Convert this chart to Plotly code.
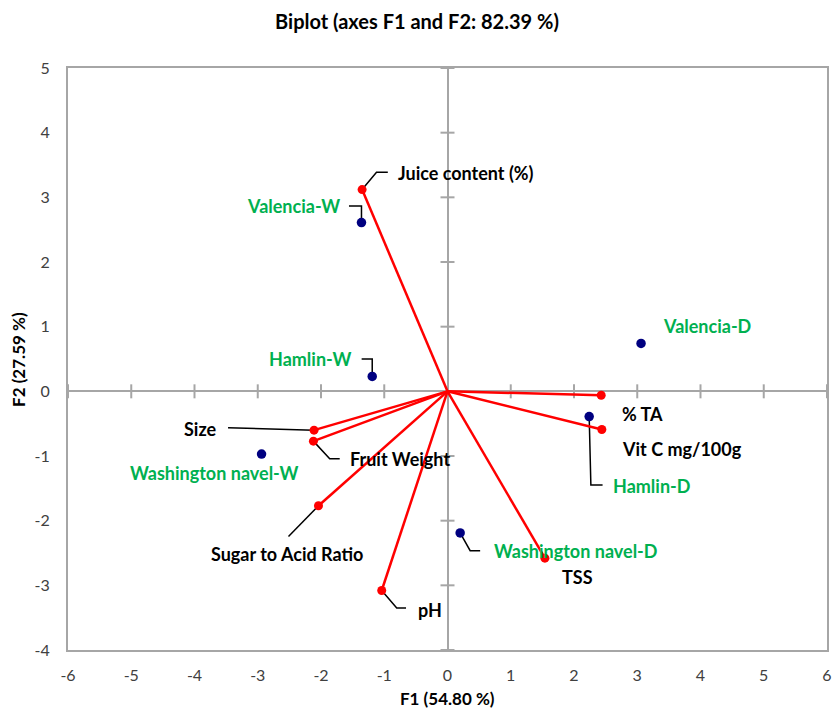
import plotly.graph_objects as go

# ---- data ----
obs_names = ["Valencia-W", "Hamlin-W", "Valencia-D", "Washington navel-W", "Hamlin-D", "Washington navel-D"]
obs_f1 = [-1.36, -1.19, 3.06, -2.94, 2.24, 0.20]
obs_f2 = [2.61, 0.23, 0.74, -0.97, -0.39, -2.19]

var_names = ["Juice content (%)", "Size", "Fruit Weight", "Sugar to Acid Ratio", "pH", "TSS", "% TA", "Vit C mg/100g"]
var_f1 = [-1.35, -2.11, -2.12, -2.04, -1.04, 1.54, 2.43, 2.44]
var_f2 = [3.12, -0.60, -0.77, -1.77, -3.08, -2.58, -0.06, -0.59]

x_ticks = [-6, -5, -4, -3, -2, -1, 0, 1, 2, 3, 4, 5, 6]
y_ticks = [-4, -3, -2, -1, 0, 1, 2, 3, 4, 5]

# ---- label placement (pixel offsets; y positive = up) ----
# (xshift, yshift, xanchor, leader path or None)
obs_place = {
    "Valencia-W": (-19, 16.5, "right", "M0,0 L0,16.5 L-12.5,16.5"),
    "Hamlin-W": (-19, 17.4, "right", "M0,0 L0,17.4 L-10.6,17.4"),
    "Valencia-D": (19.5, 17, "left", None),
    "Washington navel-W": (-48, -19, "center", None),
    "Hamlin-D": (22, -69, "left", "M0,0 L1.7,-68.5 L13.4,-68.5"),
    "Washington navel-D": (32, -18.4, "left", "M0,0 L10,-17.7 L20,-17.7"),
}
var_place = {
    "Juice content (%)": (34, 17, "left", "M0,0 L14.4,17.3 L25.7,17.3"),
    "Size": (-95, 0.7, "right", "M0,0 L-86,2.4"),
    "Fruit Weight": (34.5, -17.6, "left", "M0,0 L16.3,-17.6 L26.3,-17.6"),
    "Sugar to Acid Ratio": (-31, -48, "center", "M0,0 L-30,-30.7"),
    "pH": (34.5, -19, "left", "M0,0 L15,-17.6 L24.3,-17.6"),
    "TSS": (33, -18.7, "center", None),
    "% TA": (19, -19, "left", None),
    "Vit C mg/100g": (18.5, -19.5, "left", None),
}

GREY = "#A6A6A6"
RED = "#FF0000"
NAVY = "#000080"
GREEN = "#00B050"
FONT = "Lato"
LABEL_SIZE = 18

fig = go.Figure()

# tick marks crossing the zero lines
fig.add_trace(go.Scatter(
    x=[t for t in x_ticks if t != 0], y=[0] * (len(x_ticks) - 1),
    mode="markers", hoverinfo="skip", showlegend=False,
    marker=dict(symbol="line-ns", size=10, line=dict(color=GREY, width=2)),
))
fig.add_trace(go.Scatter(
    x=[0] * (len(y_ticks) - 1), y=[t for t in y_ticks if t != 0],
    mode="markers", hoverinfo="skip", showlegend=False,
    marker=dict(symbol="line-ew", size=10, line=dict(color=GREY, width=2)),
))

# variable vectors
lx, ly = [], []
for a, b in zip(var_f1, var_f2):
    lx += [0, a, None]
    ly += [0, b, None]
fig.add_trace(go.Scatter(x=lx, y=ly, mode="lines", line=dict(color=RED, width=2.5),
                         showlegend=False, hoverinfo="skip"))
fig.add_trace(go.Scatter(x=var_f1, y=var_f2, mode="markers", text=var_names,
                         marker=dict(color=RED, size=9), showlegend=False))

# observations
fig.add_trace(go.Scatter(x=obs_f1, y=obs_f2, mode="markers", text=obs_names,
                         marker=dict(color=NAVY, size=9.5), showlegend=False))

shapes = []
annotations = []


def add_label(name, px, py, place, color):
    xs, ys, xa, path = place
    if path:
        shapes.append(dict(type="path", xref="x", yref="y", xsizemode="pixel", ysizemode="pixel",
                           xanchor=px, yanchor=py, path=path, layer="below",
                           line=dict(color="black", width=1.5)))
    annotations.append(dict(x=px, y=py, xref="x", yref="y", text=name, showarrow=False,
                            xshift=xs, yshift=ys, xanchor=xa, yanchor="middle",
                            font=dict(family=FONT, size=LABEL_SIZE, color=color)))


for n, a, b in zip(obs_names, obs_f1, obs_f2):
    add_label("<b>%s</b>" % n, a, b, obs_place[n], GREEN)
for n, a, b in zip(var_names, var_f1, var_f2):
    add_label("<b>%s</b>" % n, a, b, var_place[n], "black")

annotations.append(dict(x=0.5, y=-0.0825, xref="paper", yref="paper", showarrow=False,
                        text="<b>F1 (54.80 %)</b>", yanchor="middle",
                        font=dict(family=FONT, size=17, color="black")))
annotations.append(dict(x=-0.066, y=0.5, xref="paper", yref="paper", showarrow=False,
                        text="<b>F2 (27.59 %)</b>", textangle=-90, xanchor="center",
                        font=dict(family=FONT, size=17, color="black")))

fig.update_layout(
    width=834, height=710,
    margin=dict(l=68, r=7, t=68, b=60),
    paper_bgcolor="white", plot_bgcolor="white",
    title=dict(text="<b>Biplot (axes F1 and F2: 82.39 %)</b>", x=0.5, xref="container",
               y=1 - 22 / 710, yref="container", yanchor="middle", xanchor="center",
               font=dict(family=FONT, size=20, color="black")),
    shapes=shapes, annotations=annotations,
    xaxis=dict(range=[-6, 6], tickvals=x_ticks, ticktext=[str(t) for t in x_ticks],
               showgrid=False, zeroline=True, automargin=False,
               zerolinecolor=GREY, zerolinewidth=2, showline=True, mirror=True,
               linecolor=GREY, linewidth=2, ticks="", ticklabelstandoff=10,
               tickfont=dict(family=FONT, size=16, color="#404040")),
    yaxis=dict(range=[-4, 5], tickvals=y_ticks, ticktext=[str(t) for t in y_ticks],
               showgrid=False, zeroline=True, automargin=False,
               zerolinecolor=GREY, zerolinewidth=2, showline=True, mirror=True,
               linecolor=GREY, linewidth=2, ticks="", ticklabelstandoff=13,
               tickfont=dict(family=FONT, size=16, color="#404040")),
)

fig.write_html("out.html", config={"displayModeBar": False},
               post_script="document.body.style.margin='0';document.body.style.padding='0';")
